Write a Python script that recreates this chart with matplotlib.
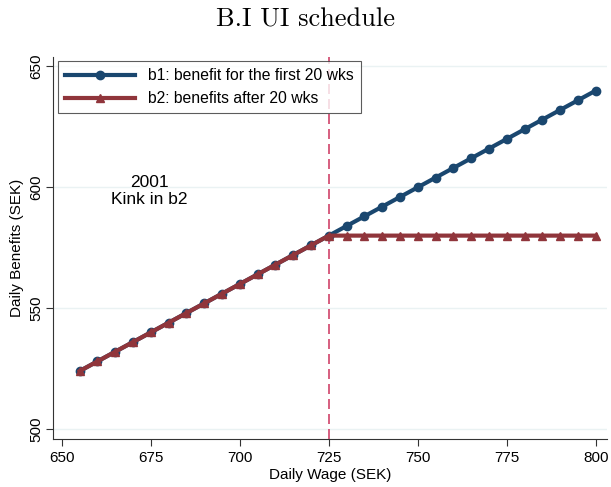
import matplotlib
matplotlib.use("Agg")
import matplotlib.pyplot as plt

wage = [655, 660, 665, 670, 675, 680, 685, 690, 695, 700, 705, 710, 715, 720, 725,
        730, 735, 740, 745, 750, 755, 760, 765, 770, 775, 780, 785, 790, 795, 800]
b1 = [524, 528, 532, 536, 540, 544, 548, 552, 556, 560, 564, 568, 572, 576, 580,
      584, 588, 592, 596, 600, 604, 608, 612, 616, 620, 624, 628, 632, 636, 640]
b2 = [524, 528, 532, 536, 540, 544, 548, 552, 556, 560, 564, 568, 572, 576, 580,
      580, 580, 580, 580, 580, 580, 580, 580, 580, 580, 580, 580, 580, 580, 580]
kink = 725
xticks = [650, 675, 700, 725, 750, 775, 800]
yticks = [500, 550, 600, 650]

plt.rcParams['font.family'] = ['Liberation Sans', 'DejaVu Sans']

fig = plt.figure(figsize=(6.11, 4.87), dpi=100)
ax = fig.add_axes([0.0867, 0.0986, 0.906, 0.785])

navy = '#1a476f'
maroon = '#90353b'

for y in yticks:
    ax.axhline(y, color='#eaf2f3', lw=1, zorder=0)

ax.axvline(kink, color='#d0436a', lw=1.2, ls=(0, (6, 3)), zorder=1)

ax.plot(wage, b1, color=navy, lw=3, marker='o', ms=6, label='b1: benefit for the first 20 wks', zorder=3)
ax.plot(wage, b2, color=maroon, lw=3, marker='^', ms=6, label='b2: benefits after 20 wks', zorder=4)

ax.text(674.5, 598.5, '2001\nKink in b2', ha='center', va='center', fontsize=12.5, linespacing=1.15)

ax.set_xlim(647.5, 803)
ax.set_ylim(495.9, 654)
ax.set_xticks(xticks)
ax.set_yticks(yticks)
ax.tick_params(axis='both', labelsize=11, length=5, width=0.8, color='#333333')
ax.tick_params(axis='y', pad=2)
for lab in ax.get_yticklabels():
    lab.set_rotation(90)
    lab.set_va('center')
ax.spines['top'].set_visible(False)
ax.spines['right'].set_visible(False)
ax.spines['left'].set_color('#333333')
ax.spines['bottom'].set_color('#333333')

ax.set_xlabel('Daily Wage (SEK)', fontsize=11, labelpad=2)
ax.set_ylabel('Daily Benefits (SEK)', fontsize=11, labelpad=4)

leg = ax.legend(loc='upper left', fontsize=11.3, frameon=True, fancybox=False,
                edgecolor='#333333', borderaxespad=0.3, handlelength=4.5,
                labelspacing=0.5, borderpad=0.45)
leg.get_frame().set_linewidth(0.8)

fig.suptitle('B.I UI schedule', fontsize=19, y=0.985, family='cmr10')

fig.savefig('out.png', dpi=100)
